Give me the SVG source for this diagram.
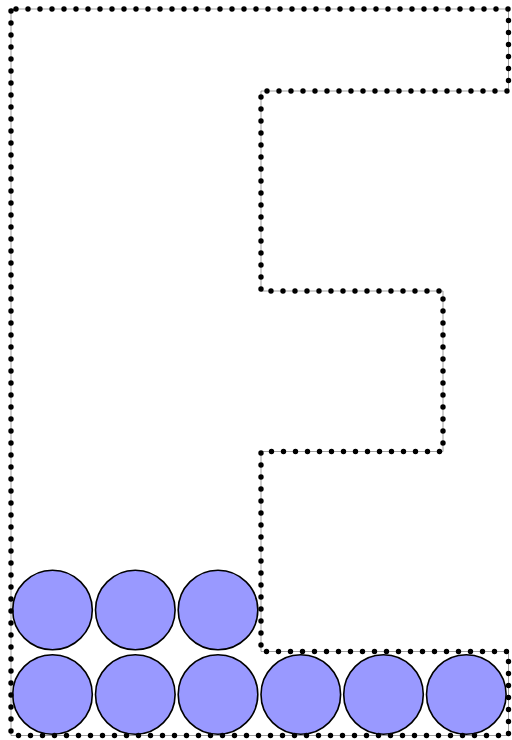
<svg xmlns="http://www.w3.org/2000/svg" width="512" height="740" viewBox="0 0 512 740">
  <style>
    .ball { fill: #9999ff; stroke: #000; stroke-width: 1.6; }
    .guide { fill: none; stroke: #777; stroke-width: 0.7; }
    .dots { fill: none; stroke: #000; stroke-width: 5.4; stroke-linecap: round; stroke-linejoin: round; stroke-dasharray: 0 12; stroke-dashoffset: -5; }
  </style>
  <defs>
    <path id="outline" d="M11,9 H508.5 V91 H261 V291 H443 V451.5 H261 V651.5 H508.5 V735.5 H11 Z"/>
  </defs>
  <g id="balls">
    <g id="row-top">
      <circle class="ball" cx="52.5" cy="610" r="39.8"/>
      <circle class="ball" cx="135.3" cy="610" r="39.8"/>
      <circle class="ball" cx="218" cy="610" r="39.8"/>
    </g>
    <g id="row-bottom">
      <circle class="ball" cx="52.5" cy="694.5" r="39.8"/>
      <circle class="ball" cx="135.3" cy="694.5" r="39.8"/>
      <circle class="ball" cx="218" cy="694.5" r="39.8"/>
      <circle class="ball" cx="300.8" cy="694.5" r="39.8"/>
      <circle class="ball" cx="383.5" cy="694.5" r="39.8"/>
      <circle class="ball" cx="466.3" cy="694.5" r="39.8"/>
    </g>
  </g>
  <g id="container">
    <use href="#outline" class="guide"/>
    <use href="#outline" class="dots"/>
  </g>
</svg>
